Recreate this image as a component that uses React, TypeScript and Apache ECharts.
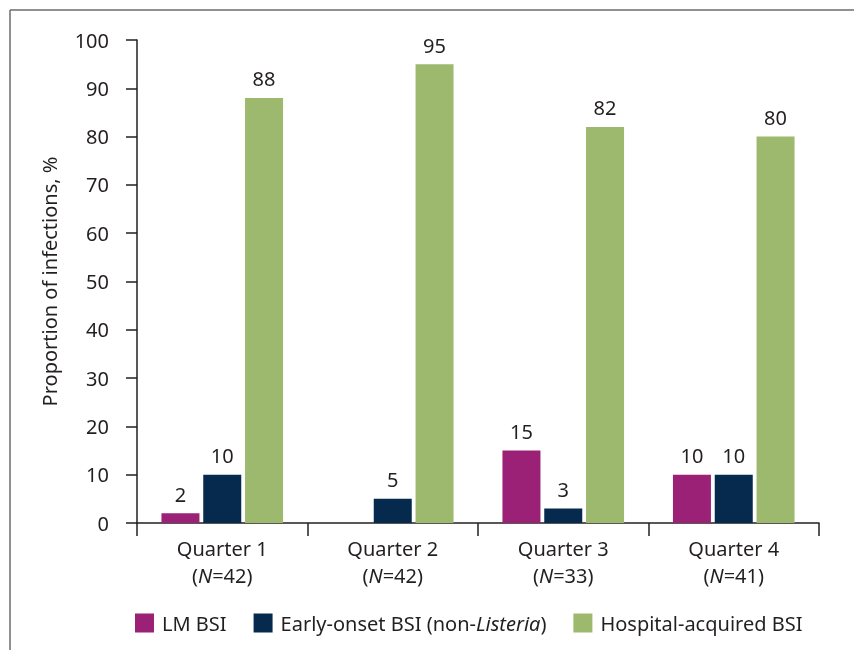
import React, { useEffect, useRef } from "react";
import * as echarts from "echarts";

const quarters = ["Quarter 1", "Quarter 2", "Quarter 3", "Quarter 4"];
const sampleSizes = [42, 42, 33, 41];
const lmBsi: (number | null)[] = [2, null, 15, 10];
const earlyOnset = [10, 5, 3, 10];
const hospitalAcquired = [88, 95, 82, 80];
const seriesNames = ["LM BSI", "Early-onset BSI (non-Listeria)", "Hospital-acquired BSI"];
const colors = ["#9B2177", "#062A4D", "#9CB96E"];

const FONT = "'Noto Sans', 'Open Sans', sans-serif";
const TXT = "#231F20";
const FS = 20;

export default function App() {
  const ref = useRef<HTMLDivElement>(null);
  useEffect(() => {
    if (!ref.current) return;
    const chart = echarts.init(ref.current, null, { renderer: "svg" });
    const label = {
      show: true,
      position: "top" as const,
      distance: 9,
      color: TXT,
      fontSize: FS,
      fontFamily: FONT,
    };
    chart.setOption({
      animation: false,
      textStyle: { fontFamily: FONT, color: TXT },
      grid: { left: 137, right: 35, top: 40, bottom: 127, containLabel: false },
      xAxis: {
        type: "category",
        data: quarters,
        axisLine: { lineStyle: { color: TXT, width: 1.5 } },
        axisTick: { show: true, alignWithLabel: false, length: 13, lineStyle: { color: TXT, width: 1.5 } },
        axisLabel: {
          margin: 12,
          formatter: (v: string, i: number) => `{a|${v}}\n{a|(}{i|N}{a|=${sampleSizes[i]})}`,
          rich: {
            a: { fontSize: FS, color: TXT, fontFamily: FONT, lineHeight: 27 },
            i: { fontSize: FS, color: TXT, fontFamily: FONT, fontStyle: "italic", lineHeight: 27 },
          },
        },
      },
      yAxis: {
        type: "value",
        min: 0,
        max: 100,
        interval: 10,
        name: "Proportion of infections, %",
        nameLocation: "middle",
        nameGap: 78,
        nameTextStyle: { fontSize: FS, color: TXT, fontFamily: FONT },
        axisLine: { show: true, lineStyle: { color: TXT, width: 1.5 } },
        axisTick: { show: true, length: 11, lineStyle: { color: TXT, width: 1.5 } },
        axisLabel: { fontSize: FS, color: TXT, fontFamily: FONT, margin: 28 },
        splitLine: { show: false },
      },
      legend: {
        top: 613,
        left: 135,
        padding: 0,
        itemWidth: 19,
        itemHeight: 19,
        itemGap: 27,
        icon: "rect",
        data: seriesNames,
        formatter: (name: string) =>
          name === seriesNames[1]
            ? "{a|Early-onset BSI (non-}{i|Listeria}{a|)}"
            : `{a|${name}}`,
        textStyle: {
          fontSize: FS,
          color: TXT,
          fontFamily: FONT,
          padding: [0, 0, 0, 3],
          rich: {
            a: { fontSize: FS, color: TXT, fontFamily: FONT },
            i: { fontSize: FS, color: TXT, fontFamily: FONT, fontStyle: "italic" },
          },
        },
      },
      series: [
        { name: seriesNames[0], type: "bar", data: lmBsi, itemStyle: { color: colors[0] }, barWidth: 38, barGap: "10%", label },
        { name: seriesNames[1], type: "bar", data: earlyOnset, itemStyle: { color: colors[1] }, barWidth: 38, barGap: "10%", label },
        { name: seriesNames[2], type: "bar", data: hospitalAcquired, itemStyle: { color: colors[2] }, barWidth: 38, barGap: "10%", label },
      ],
      graphic: [
        { type: "line", shape: { x1: 10, y1: 10, x2: 854, y2: 10 }, style: { stroke: "#6d6d6d", lineWidth: 1.5 } },
        { type: "line", shape: { x1: 10, y1: 10, x2: 10, y2: 650 }, style: { stroke: "#6d6d6d", lineWidth: 1.5 } },
      ],
    });
    return () => chart.dispose();
  }, []);
  return <div ref={ref} style={{ width: 854, height: 650, position: "fixed", left: 0, top: 0 }} />;
}
